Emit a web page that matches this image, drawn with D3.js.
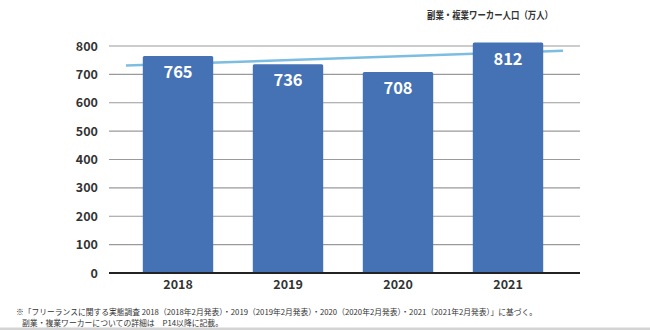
<!DOCTYPE html>
<html><head><meta charset="utf-8">
<script src="https://cdn.jsdelivr.net/npm/d3@7"></script>
<style>
html,body{margin:0;padding:0;background:#fff;}
svg{display:block;}
</style></head>
<body>
<svg id="chart" width="650" height="330"></svg>
<script>
const categories = ["2018", "2019", "2020", "2021"];
const values = [765, 736, 708, 812];
const trendValues = [731, 783];
const yTicks = [0, 100, 200, 300, 400, 500, 600, 700, 800];
const title = "副業・複業ワーカー人口（万人）";
const notes = [
  "※「フリーランスに関する実態調査 2018（2018年2月発表）・2019（2019年2月発表）・2020（2020年2月発表）・2021（2021年2月発表）」に基づく。",
  "副業・複業ワーカーについての詳細は　P14以降に記載。"
];

const svg = d3.select("#chart");
const font = "'Noto Sans CJK JP', 'Noto Sans', sans-serif";

const y = d3.scaleLinear().domain([0, 800]).range([273, 46]);
const x = d3.scaleBand().domain(categories).range([123, 563]).paddingInner(0.36).paddingOuter(0.18);
const gridX = [109, 580];

// gray bottom band
svg.append("rect").attr("x", 0).attr("y", 327.5).attr("width", 650).attr("height", 3).attr("fill", "#d4d4d4");

// gridlines
svg.append("g").selectAll("line").data(yTicks.filter(d => d > 0)).join("line")
  .attr("x1", gridX[0]).attr("x2", gridX[1])
  .attr("y1", d => y(d)).attr("y2", d => y(d))
  .attr("stroke", "#9a9a9a").attr("stroke-width", 1.2);

// y axis labels
const yAxis = d3.axisLeft(y).tickValues(yTicks).tickSize(0).tickPadding(0);
const gy = svg.append("g").attr("transform", "translate(98,0)").call(yAxis);
gy.select(".domain").remove();
gy.selectAll("text").attr("font-family", font).attr("font-size", 12.5).attr("font-weight", "bold").attr("fill", "#333");

// trend line (behind bars)
const r = x.range();
svg.append("line")
  .attr("x1", r[0] + 3).attr("x2", r[1])
  .attr("y1", y(trendValues[0])).attr("y2", y(trendValues[1]))
  .attr("stroke", "#7dbde2").attr("stroke-width", 2.5);

// bars
svg.append("g").selectAll("rect").data(values).join("rect")
  .attr("x", (d, i) => x(categories[i]))
  .attr("y", d => y(d))
  .attr("width", x.bandwidth())
  .attr("height", d => y(0) - y(d))
  .attr("rx", 1.5)
  .attr("fill", "#4472b4");

// value labels
svg.append("g").selectAll("text").data(values).join("text")
  .attr("x", (d, i) => x(categories[i]) + x.bandwidth() / 2)
  .attr("y", d => y(d) + 22)
  .attr("text-anchor", "middle")
  .attr("font-family", font).attr("font-size", 16.5).attr("font-weight", "bold")
  .attr("fill", "#fff")
  .text(d => d);

// baseline
svg.append("line").attr("x1", gridX[0]).attr("x2", gridX[1])
  .attr("y1", y(0)).attr("y2", y(0)).attr("stroke", "#222").attr("stroke-width", 2);

// x axis labels
const xAxis = d3.axisBottom(x).tickSize(0).tickPadding(0);
const gx = svg.append("g").attr("transform", "translate(0,278)").call(xAxis);
gx.select(".domain").remove();
gx.selectAll("text").attr("font-family", font).attr("font-size", 12.5).attr("font-weight", "bold").attr("fill", "#333").attr("dy", "0.85em");

// title
svg.append("text").attr("x", 427).attr("y", 19)
  .attr("font-family", font).attr("font-size", 10).attr("font-weight", "bold").attr("fill", "#333")
  .attr("textLength", 126).attr("lengthAdjust", "spacingAndGlyphs")
  .text(title);

// footnotes
svg.append("text").attr("x", 16).attr("y", 315)
  .attr("font-family", font).attr("font-size", 7.8).attr("fill", "#333")
  .attr("textLength", 521).attr("lengthAdjust", "spacingAndGlyphs").text(notes[0]);
svg.append("text").attr("x", 22).attr("y", 326)
  .attr("font-family", font).attr("font-size", 7.8).attr("fill", "#333")
  .attr("textLength", 201).attr("lengthAdjust", "spacingAndGlyphs").text(notes[1]);
</script>
</body></html>
